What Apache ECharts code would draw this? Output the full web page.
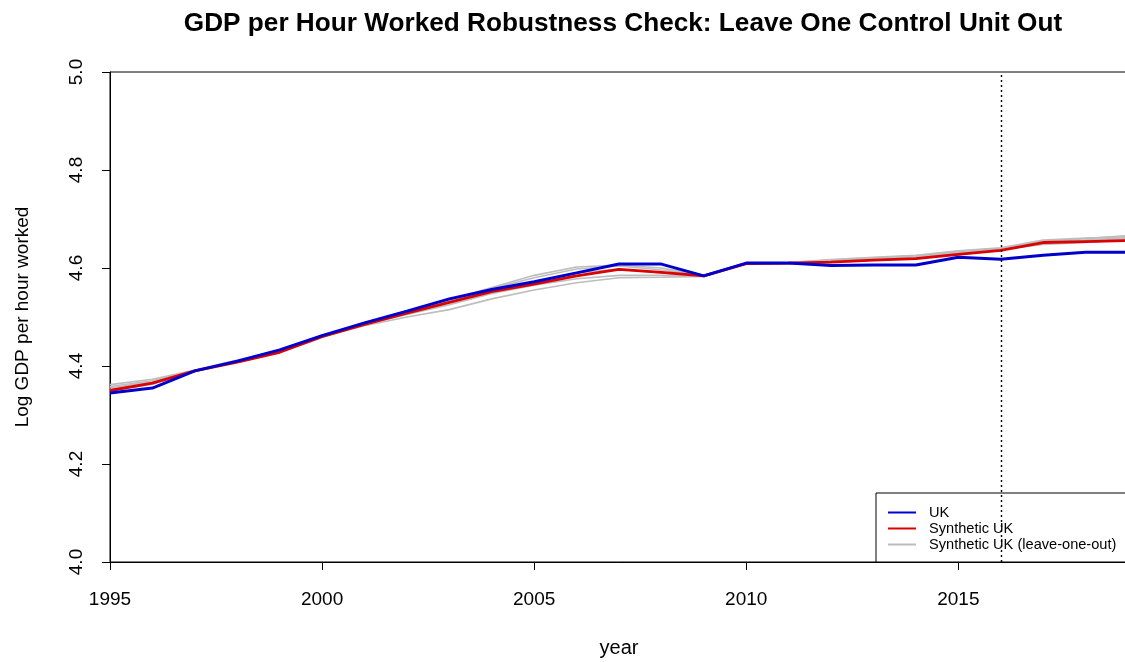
<!DOCTYPE html>
<html>
<head>
<meta charset="utf-8">
<script src="https://cdn.jsdelivr.net/npm/echarts@6/dist/echarts.min.js"></script>
<style>
  html, body { margin: 0; padding: 0; background: #fff; }
  #chart { width: 1125px; height: 662px; }
</style>
</head>
<body>
<div id="chart"></div>
<script>
// Years on the x axis
const years = [1995, 1996, 1997, 1998, 1999, 2000, 2001, 2002, 2003, 2004, 2005, 2006,
  2007, 2008, 2009, 2010, 2011, 2012, 2013, 2014, 2015, 2016, 2017, 2018, 2019];

// Log GDP per hour worked, actual UK
const uk = [4.345, 4.355, 4.390, 4.410, 4.433, 4.462, 4.488, 4.512, 4.537, 4.556, 4.572, 4.590,
  4.608, 4.608, 4.584, 4.610, 4.610, 4.605, 4.606, 4.606, 4.622, 4.618, 4.626, 4.632, 4.632];

// Synthetic UK
const synthUk = [4.350, 4.365, 4.390, 4.408, 4.428, 4.460, 4.485, 4.508, 4.530, 4.552, 4.567, 4.584,
  4.597, 4.591, 4.584, 4.609, 4.610, 4.612, 4.616, 4.619, 4.628, 4.636, 4.652, 4.654, 4.656];

// Synthetic UK re-estimated with one donor country left out each time
const loo1 = [4.362, 4.373, 4.392, 4.412, 4.432, 4.463, 4.486, 4.510, 4.535, 4.560, 4.585, 4.602,
  4.606, 4.600, 4.585, 4.610, 4.611, 4.616, 4.621, 4.625, 4.634, 4.640, 4.655, 4.660, 4.666];
const loo2 = [4.355, 4.368, 4.390, 4.410, 4.430, 4.460, 4.482, 4.500, 4.515, 4.537, 4.555, 4.570,
  4.580, 4.581, 4.583, 4.608, 4.609, 4.614, 4.619, 4.622, 4.632, 4.638, 4.648, 4.652, 4.658];
const loo3 = [4.352, 4.366, 4.391, 4.411, 4.430, 4.462, 4.485, 4.505, 4.525, 4.548, 4.565, 4.578,
  4.585, 4.585, 4.584, 4.609, 4.610, 4.615, 4.620, 4.623, 4.633, 4.639, 4.653, 4.657, 4.662];
const loo4 = [4.349, 4.363, 4.390, 4.409, 4.429, 4.461, 4.485, 4.507, 4.530, 4.553, 4.572, 4.590,
  4.598, 4.590, 4.584, 4.609, 4.610, 4.613, 4.618, 4.621, 4.631, 4.637, 4.651, 4.655, 4.660];
const loo5 = [4.358, 4.370, 4.391, 4.411, 4.431, 4.463, 4.486, 4.509, 4.533, 4.558, 4.580, 4.598,
  4.604, 4.596, 4.585, 4.610, 4.611, 4.617, 4.622, 4.626, 4.635, 4.641, 4.657, 4.661, 4.664];
const leaveOneOut = [loo1, loo2, loo3, loo4, loo5];

// Year the treatment starts (vertical reference line)
const treatmentYear = 2016;

const FONT = '"Liberation Sans", Arial, sans-serif';
const pairs = arr => years.map((y, i) => [y, arr[i]]);

const series = [];
leaveOneOut.forEach(arr => {
  series.push({
    name: 'Synthetic UK (leave-one-out)',
    type: 'line',
    data: pairs(arr),
    symbol: 'none',
    lineStyle: { color: '#bdbdbd', width: 1.6 },
    itemStyle: { color: '#bdbdbd' },
    z: 2
  });
});
series.push({
  name: 'Synthetic UK',
  type: 'line',
  data: pairs(synthUk),
  symbol: 'none',
  lineStyle: { color: '#dd0000', width: 2.8 },
  itemStyle: { color: '#dd0000' },
  z: 3
});
series.push({
  name: 'UK',
  type: 'line',
  data: pairs(uk),
  symbol: 'none',
  lineStyle: { color: '#0000cc', width: 3 },
  itemStyle: { color: '#0000cc' },
  z: 4,
  markLine: {
    silent: true,
    symbol: 'none',
    label: { show: false },
    lineStyle: { color: '#000', width: 1.4, type: [2, 3] },
    data: [{ xAxis: treatmentYear }]
  }
});

const chart = echarts.init(document.getElementById('chart'));
chart.setOption({
  animation: false,
  backgroundColor: '#fff',
  title: {
    text: 'GDP per Hour Worked Robustness Check: Leave One Control Unit Out',
    left: 618,
    textAlign: 'center',
    top: 6,
    textStyle: { fontFamily: FONT, fontSize: 26.2, fontWeight: 'bold', color: '#000' }
  },
  grid: {
    left: 110, top: 72, width: 1018, height: 490,
    outerBoundsMode: 'none',
    show: true, borderColor: '#000', borderWidth: 1, backgroundColor: 'transparent'
  },
  legend: {
    data: ['UK', 'Synthetic UK', 'Synthetic UK (leave-one-out)'],
    orient: 'vertical',
    left: 876, top: 493,
    backgroundColor: '#fff',
    borderColor: '#000', borderWidth: 1, borderRadius: 0,
    padding: [12, 14, 10, 12],
    itemGap: 1,
    itemWidth: 28, itemHeight: 2,
    icon: 'rect',
    textStyle: { fontFamily: FONT, fontSize: 14.6, lineHeight: 15, color: '#000', padding: [0, 0, 0, 8] }
  },
  xAxis: {
    type: 'value',
    min: 1995, max: 2019, interval: 5,
    name: 'year', nameLocation: 'middle', nameGap: 76,
    nameTextStyle: { fontFamily: FONT, fontSize: 20, color: '#000' },
    axisLine: { show: true, lineStyle: { color: '#000', width: 1 } },
    axisTick: { show: true, inside: false, length: 8, lineStyle: { color: '#000' } },
    axisLabel: { fontFamily: FONT, fontSize: 19, color: '#000', margin: 28, showMaxLabel: false,
      formatter: v => String(v) },
    splitLine: { show: false }
  },
  yAxis: {
    type: 'value',
    min: 4, max: 5, interval: 0.2,
    name: 'Log GDP per hour worked', nameLocation: 'middle', nameGap: 78,
    nameTextStyle: { fontFamily: FONT, fontSize: 19, color: '#000' },
    axisLine: { show: true, lineStyle: { color: '#000', width: 1 } },
    axisTick: { show: true, inside: false, length: 8, lineStyle: { color: '#000' } },
    axisLabel: { fontFamily: FONT, fontSize: 19, color: '#000', rotate: 90, margin: 24,
      formatter: v => v.toFixed(1) },
    splitLine: { show: false }
  },
  series: series
});
</script>
</body>
</html>
